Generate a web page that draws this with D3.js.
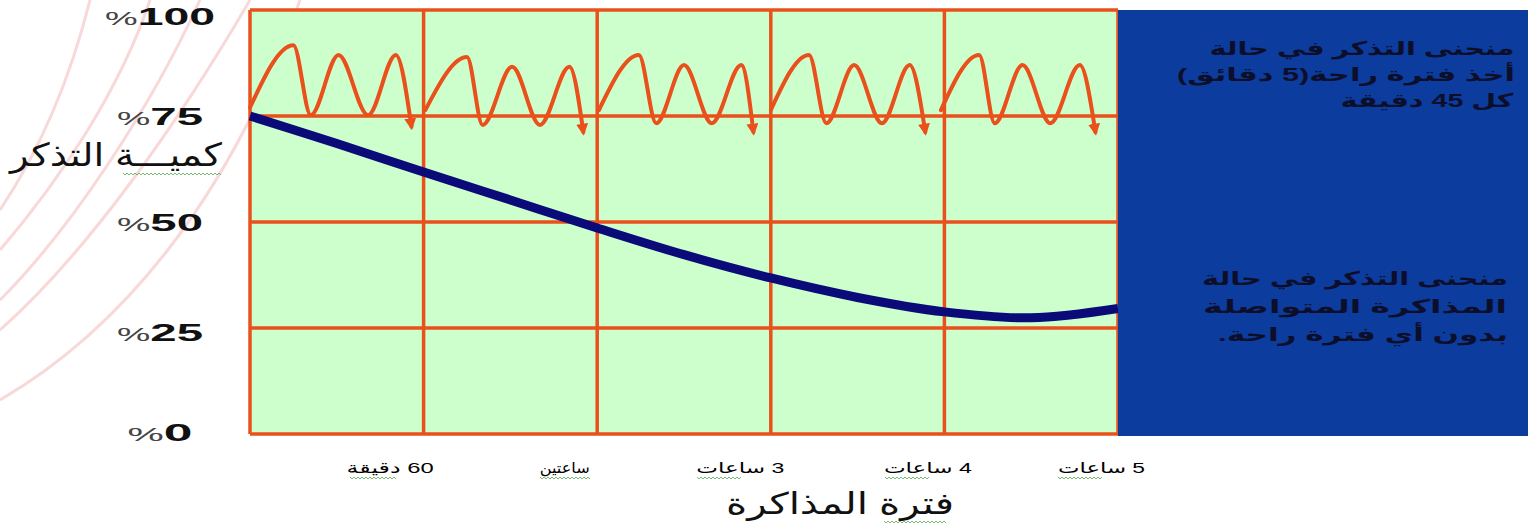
<!DOCTYPE html>
<html><head><meta charset="utf-8">
<script src="https://cdn.jsdelivr.net/npm/d3@7"></script>
<style>html,body{margin:0;padding:0;background:#fff;overflow:hidden}</style>
</head><body><svg id="c" width="1528" height="526"></svg>
<script>
// ---------- data ----------
const xTickValues = [1, 2, 3, 4, 5];
const xTickLabels = ["60 دقيقة", "ساعتين", "3 ساعات", "4 ساعات", "5 ساعات"];
const yTickValues = [0, 25, 50, 75, 100];
const yTickLabels = ["0", "25", "50", "75", "100"];
const xTitle = "فترة المذاكرة";
const yTitle = "كميـــة التذكر";
const legendRest = ["منحنى التذكر في حالة", "أخذ فترة راحة(5 دقائق)", "كل 45 دقيقة"];
const legendContinuous = ["منحنى التذكر في حالة", "المذاكرة المتواصلة", "بدون أي فترة راحة."];

// continuous study curve (hours, % recall)
const continuousHours = [0, 0.5, 1, 1.5, 2, 2.5, 3, 3.5, 4, 4.5, 5];
const continuousRecall = [75, 68.5, 61.8, 55.2, 48.6, 42.3, 36.8, 32.2, 28.8, 27.4, 29.6];

// study with breaks: one block per hour
const restHours1 = [0.00, 0.25, 0.35, 0.51, 0.68, 0.84, 0.93];
const restRecall1 = [77.0, 91.7, 75.2, 89.4, 75.2, 89.4, 72.5];
const restHours2 = [1.01, 1.25, 1.34, 1.51, 1.67, 1.84, 1.92];
const restRecall2 = [76.4, 88.9, 72.9, 86.6, 72.9, 86.6, 71.2];
const restHours3 = [2.01, 2.24, 2.34, 2.50, 2.66, 2.83, 2.90];
const restRecall3 = [76.4, 89.4, 73.3, 87.0, 73.3, 87.0, 71.2];
const restHours4 = [3.00, 3.22, 3.32, 3.48, 3.64, 3.80, 3.89];
const restRecall4 = [76.4, 89.4, 73.3, 87.0, 73.3, 87.0, 71.2];
const restHours5 = [3.98, 4.20, 4.29, 4.45, 4.61, 4.78, 4.87];
const restRecall5 = [76.4, 89.4, 73.3, 87.0, 73.3, 87.0, 71.2];

// ---------- drawing ----------
const ORANGE = "#e9501c", GREEN = "#ccffcc", NAVY = "#0a0a78", PANEL = "#0b3c9e";
const svg = d3.select("#c");
const x = d3.scaleLinear().domain([0, 5]).range([250, 1118]);
const y = d3.scaleLinear().domain([0, 100]).range([434, 10]);

// faint decorative swirls in background (left)
const deco = svg.append("g").attr("fill", "none").attr("stroke", "#f7cfcf").attr("stroke-width", 3).attr("opacity", 0.8);
deco.append("path").attr("d", "M0,330 C90,250 180,120 250,0");
deco.append("path").attr("d", "M0,300 C70,230 150,110 200,0");
deco.append("path").attr("d", "M0,250 C60,180 120,90 150,0");
deco.append("path").attr("d", "M0,400 C120,330 230,200 300,0");
deco.append("path").attr("d", "M0,210 C40,150 70,80 90,0");

// plot background
svg.append("rect").attr("x", x(0)).attr("y", y(100)).attr("width", x(5) - x(0)).attr("height", y(0) - y(100)).attr("fill", GREEN);

// grid
const grid = svg.append("g").attr("stroke", ORANGE).attr("stroke-width", 3.5);
grid.selectAll("line.v").data([0, 1, 2, 3, 4, 5]).join("line")
  .attr("x1", d => x(d)).attr("x2", d => x(d)).attr("y1", y(100)).attr("y2", y(0));
grid.selectAll("line.h").data(yTickValues).join("line").attr("class", "h")
  .attr("x1", x(0)).attr("x2", x(5)).attr("y1", d => y(d)).attr("y2", d => y(d));

// arrow marker
svg.append("defs").append("marker").attr("id", "arr")
  .attr("viewBox", "0 0 10 10").attr("refX", 7).attr("refY", 5)
  .attr("markerWidth", 12).attr("markerHeight", 12).attr("markerUnits", "userSpaceOnUse")
  .attr("orient", "auto")
  .append("path").attr("d", "M0,0 L10,5 L0,10 Z").attr("fill", ORANGE);

// rest waves
const blocks = [
  [restHours1, restRecall1], [restHours2, restRecall2], [restHours3, restRecall3],
  [restHours4, restRecall4], [restHours5, restRecall5]
];
const waveLine = d3.line().x(d => x(d[0])).y(d => y(d[1])).curve(d3.curveMonotoneX);
svg.append("g").selectAll("path").data(blocks).join("path")
  .attr("d", b => waveLine(d3.zip(b[0], b[1])))
  .attr("fill", "none").attr("stroke", ORANGE).attr("stroke-width", 4)
  .attr("stroke-linecap", "round").attr("stroke-linejoin", "round")
  .attr("marker-end", "url(#arr)");

// continuous curve
const contLine = d3.line().x(d => x(d[0])).y(d => y(d[1])).curve(d3.curveCatmullRom.alpha(0.5));
svg.append("path").attr("d", contLine(d3.zip(continuousHours, continuousRecall)))
  .attr("fill", "none").attr("stroke", NAVY).attr("stroke-width", 9).attr("stroke-linecap", "butt");

// legend panel
svg.append("rect").attr("x", x(5)).attr("y", y(100)).attr("width", 1528 - x(5)).attr("height", y(0) - y(100) + 2).attr("fill", PANEL);

const FONT = "'Liberation Sans', 'DejaVu Sans', Arial, sans-serif";
function fit(sel, w) { return sel.attr("textLength", w).attr("lengthAdjust", "spacingAndGlyphs"); }

// spell-check style squiggle under a span of text
function squiggle(x0, x1, yy, color) {
  let d = `M${x0},${yy}`;
  for (let xx = x0, k = 0; xx < x1; xx += 2, k++) d += ` L${xx + 2},${yy + (k % 2 ? 0 : 2)}`;
  svg.append("path").attr("d", d).attr("fill", "none").attr("stroke", color).attr("stroke-width", 0.9).attr("opacity", 0.8);
}

// legend text
const legendStyle = (sel) => sel.attr("font-family", FONT).attr("font-size", 19).attr("font-weight", "bold")
  .attr("fill", "#0d0f2a").attr("direction", "rtl").attr("text-anchor", "middle");
const restWidths = [305, 338, 173], restCenters = [1362, 1346, 1427];
legendRest.forEach((t, i) => {
  legendStyle(svg.append("text")).attr("x", restCenters[i]).attr("y", 55 + i * 26).text(t).call(fit, restWidths[i]);
});
const contWidths = [306, 304, 290], contCenters = [1355, 1355, 1363];
legendContinuous.forEach((t, i) => {
  legendStyle(svg.append("text")).attr("x", contCenters[i]).attr("y", 285 + i * 28).text(t).call(fit, contWidths[i]);
});

// y axis tick labels
const yAxis = d3.axisLeft(y).tickValues(yTickValues).tickSize(0).tickFormat("");
const yg = svg.append("g").attr("transform", "translate(160,0)").call(yAxis);
yg.select(".domain").remove();
const yOff = { 0: -2, 25: 4, 50: 0, 75: 0, 100: 6 };
yg.selectAll(".tick").each(function (d, i) {
  const t = d3.select(this).append("text").attr("text-anchor", "middle").attr("y", yOff[d] || 0)
    .attr("dy", "0.35em").attr("font-family", FONT).attr("font-size", 24).attr("fill", "#111");
  t.append("tspan").attr("font-weight", "normal").attr("font-size", 19).attr("fill", "#444").text("%");
  t.append("tspan").attr("font-weight", "bold").text(yTickLabels[i]);
  t.call(fit, d === 100 ? 110 : d === 0 ? 65 : 86);
});

// x axis tick labels
const xDx = [-34, -33, -31, -17, -17];
const xWidths = [87, 50, 88, 88, 87];
const xAxis = d3.axisBottom(x).tickValues(xTickValues).tickSize(0).tickFormat((d, i) => xTickLabels[i]);
const xg = svg.append("g").attr("transform", `translate(0,${y(0)})`).call(xAxis);
xg.select(".domain").remove();
xg.selectAll(".tick text").attr("font-family", FONT).attr("font-size", 15).attr("fill", "#000")
  .attr("direction", "rtl").attr("text-anchor", "middle")
  .attr("x", (d, i) => xDx[i]).attr("y", 39).attr("dy", 0)
  .each(function (d, i) { d3.select(this).call(fit, xWidths[i]); });

// squiggles under tick label words
const squigSpans = [[350, 396], [540, 590], [697, 741], [885, 929], [1058, 1101]];
squigSpans.forEach(s => squiggle(s[0], s[1], 477, "#3f9f3f"));

// axis titles
svg.append("text").attr("x", 840).attr("y", 514).attr("text-anchor", "middle").attr("direction", "rtl")
  .attr("font-family", FONT).attr("font-size", 30).attr("fill", "#111").text(xTitle).call(fit, 228);
squiggle(884, 946, 521, "#3f9f3f");
svg.append("text").attr("x", 116).attr("y", 166).attr("text-anchor", "middle").attr("direction", "rtl")
  .attr("font-family", FONT).attr("font-size", 32).attr("fill", "#111").text(yTitle).call(fit, 212);
squiggle(123, 220, 173, "#3f9f3f");
</script>
</body></html>
